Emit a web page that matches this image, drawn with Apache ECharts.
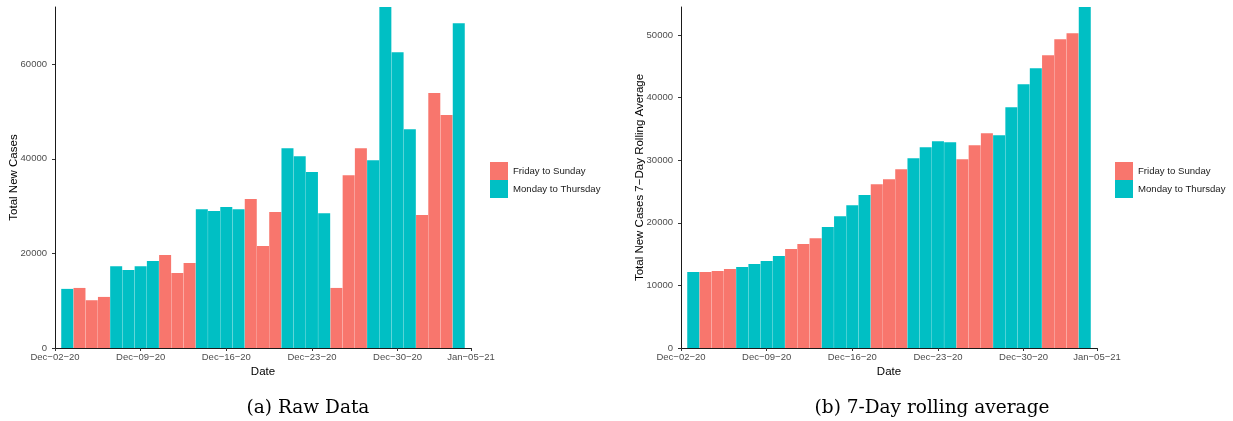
<!DOCTYPE html>
<html>
<head>
<meta charset="utf-8">
<script src="https://cdn.jsdelivr.net/npm/echarts@6/dist/echarts.min.js"></script>
<style>
  html, body { margin: 0; padding: 0; background: #fff; }
  #chart { width: 1233px; height: 421px; }
</style>
</head>
<body>
<div id="chart"></div>
<script>
// Daily dates (Dec 3, 2020 – Jan 4, 2021)
const dates = [
  '2020-12-03','2020-12-04','2020-12-05','2020-12-06','2020-12-07','2020-12-08','2020-12-09',
  '2020-12-10','2020-12-11','2020-12-12','2020-12-13','2020-12-14','2020-12-15','2020-12-16',
  '2020-12-17','2020-12-18','2020-12-19','2020-12-20','2020-12-21','2020-12-22','2020-12-23',
  '2020-12-24','2020-12-25','2020-12-26','2020-12-27','2020-12-28','2020-12-29','2020-12-30',
  '2020-12-31','2021-01-01','2021-01-02','2021-01-03','2021-01-04'
];

// Total new cases per day
const rawCases = [
  12500, 12700, 10100, 10800, 17300, 16500, 17300,
  18400, 19650, 15850, 17950, 29350, 28950, 29800,
  29350, 31500, 21550, 28750, 42250, 40550, 37200,
  28500, 12700, 36550, 42250, 39700, 72100, 62550,
  46250, 28100, 53900, 49250, 68650
];

// 7-day rolling average of new cases
const rollingCases = [
  12130, 12130, 12290, 12610, 12930, 13400, 13880,
  14680, 15800, 16600, 17550, 19310, 21060, 22820,
  24420, 26170, 26970, 28560, 30320, 32070, 33030,
  32870, 30160, 32390, 34310, 33990, 38460, 42130,
  44680, 46760, 49310, 50270, 54470
];

// x-axis breaks and their labels
const tickDates = ['2020-12-02','2020-12-09','2020-12-16','2020-12-23','2020-12-30','2021-01-05'];
const tickLabels = ['Dec\u221202\u221220','Dec\u221209\u221220','Dec\u221216\u221220','Dec\u221223\u221220','Dec\u221230\u221220','Jan\u221205\u221221'];

const groupNames = ['Friday to Sunday', 'Monday to Thursday'];
const groupColors = ['#F8766D', '#00BFC4'];

const DAY = 86400000;
// dates become day numbers counted from the first axis break
function dayNumber(s) {
  const p = s.split('-').map(Number);
  return Math.round((Date.UTC(p[0], p[1] - 1, p[2]) - Date.UTC(2020, 11, 2)) / DAY);
}
function isFriToSun(s) {
  const p = s.split('-').map(Number);
  const d = new Date(Date.UTC(p[0], p[1] - 1, p[2])).getUTCDay();
  return d === 5 || d === 6 || d === 0;
}

const tickDays = tickDates.map(dayNumber);
const xMin = tickDays[0];
const xMax = tickDays[tickDays.length - 1];

const FONT = 'Liberation Sans, Arial, sans-serif';
const SERIF = 'DejaVu Serif, serif';
const TICK_COLOR = '#4d4d4d';
const AXIS_COLOR = '#1a1a1a';

function xAxisFor(gridIndex) {
  return {
    type: 'value',
    gridIndex: gridIndex,
    min: xMin,
    max: xMax,
    name: 'Date',
    nameLocation: 'middle',
    nameGap: 18,
    nameMoveOverlap: false,
    nameTextStyle: { fontFamily: FONT, fontSize: 11.5, color: '#000' },
    axisLine: { show: true, lineStyle: { color: AXIS_COLOR, width: 1 } },
    axisTick: { show: true, length: 3, lineStyle: { color: '#333' }, customValues: tickDays },
    axisLabel: {
      margin: 4,
      fontFamily: FONT,
      fontSize: 9.5,
      color: TICK_COLOR,
      customValues: tickDays,
      formatter: function (v) {
        const i = tickDays.indexOf(Math.round(v));
        return i >= 0 ? tickLabels[i] : '';
      }
    },
    splitLine: { show: false }
  };
}

function yAxisFor(gridIndex, title, interval, gap) {
  return {
    type: 'value',
    gridIndex: gridIndex,
    min: 0,
    max: 'dataMax',
    interval: interval,
    name: title,
    nameLocation: 'middle',
    nameGap: gap,
    nameMoveOverlap: false,
    nameTextStyle: { fontFamily: FONT, fontSize: 11.5, color: '#000' },
    axisLine: { show: true, lineStyle: { color: AXIS_COLOR, width: 1 } },
    axisTick: { show: true, length: 3, lineStyle: { color: '#333' } },
    axisLabel: {
      margin: 8, fontFamily: FONT, fontSize: 9.5, color: TICK_COLOR, showMaxLabel: false,
      formatter: function (v) { return String(v); }
    },
    splitLine: { show: false }
  };
}

function barSeries(values, xIdx, groupIdx) {
  const wantFriSun = groupIdx === 0;
  return {
    name: groupNames[groupIdx],
    type: 'bar',
    xAxisIndex: xIdx,
    yAxisIndex: xIdx,
    barWidth: 12,
    barGap: '-100%',
    itemStyle: { color: groupColors[groupIdx] },
    emphasis: { disabled: true },
    data: dates.map(function (d, i) {
      return [dayNumber(d), isFriToSun(d) === wantFriSun ? values[i] : '-'];
    })
  };
}

function legendAt(left) {
  return {
    orient: 'vertical',
    left: left,
    top: 162,
    padding: 0,
    itemGap: 0,
    itemWidth: 18,
    itemHeight: 18,
    icon: 'rect',
    selectedMode: false,
    textStyle: { fontFamily: FONT, fontSize: 9.6, color: '#1a1a1a' },
    data: groupNames
  };
}

const chart = echarts.init(document.getElementById('chart'), null, { renderer: 'canvas' });
chart.setOption({
  animation: false,
  backgroundColor: '#fff',
  grid: [
    { left: 55, top: 7, width: 416, height: 341 },
    { left: 681, top: 7, width: 416, height: 341 }
  ],
  xAxis: [xAxisFor(0), xAxisFor(1)],
  yAxis: [
    yAxisFor(0, 'Total New Cases', 20000, 35),
    yAxisFor(1, 'Total New Cases 7\u2212Day Rolling Average', 10000, 35)
  ],
  legend: [legendAt(490), legendAt(1115)],
  series: [
    barSeries(rawCases, 0, 0),
    barSeries(rawCases, 0, 1),
    barSeries(rollingCases, 1, 0),
    barSeries(rollingCases, 1, 1)
  ],
  graphic: [
    {
      type: 'text', x: 308, y: 408,
      style: { text: '(a) Raw Data', font: '18.5px ' + SERIF, fill: '#000', align: 'center', verticalAlign: 'middle' }
    },
    {
      type: 'text', x: 932, y: 408,
      style: { text: '(b) 7-Day rolling average', font: '18.5px ' + SERIF, fill: '#000', align: 'center', verticalAlign: 'middle' }
    }
  ]
});
</script>
</body>
</html>
